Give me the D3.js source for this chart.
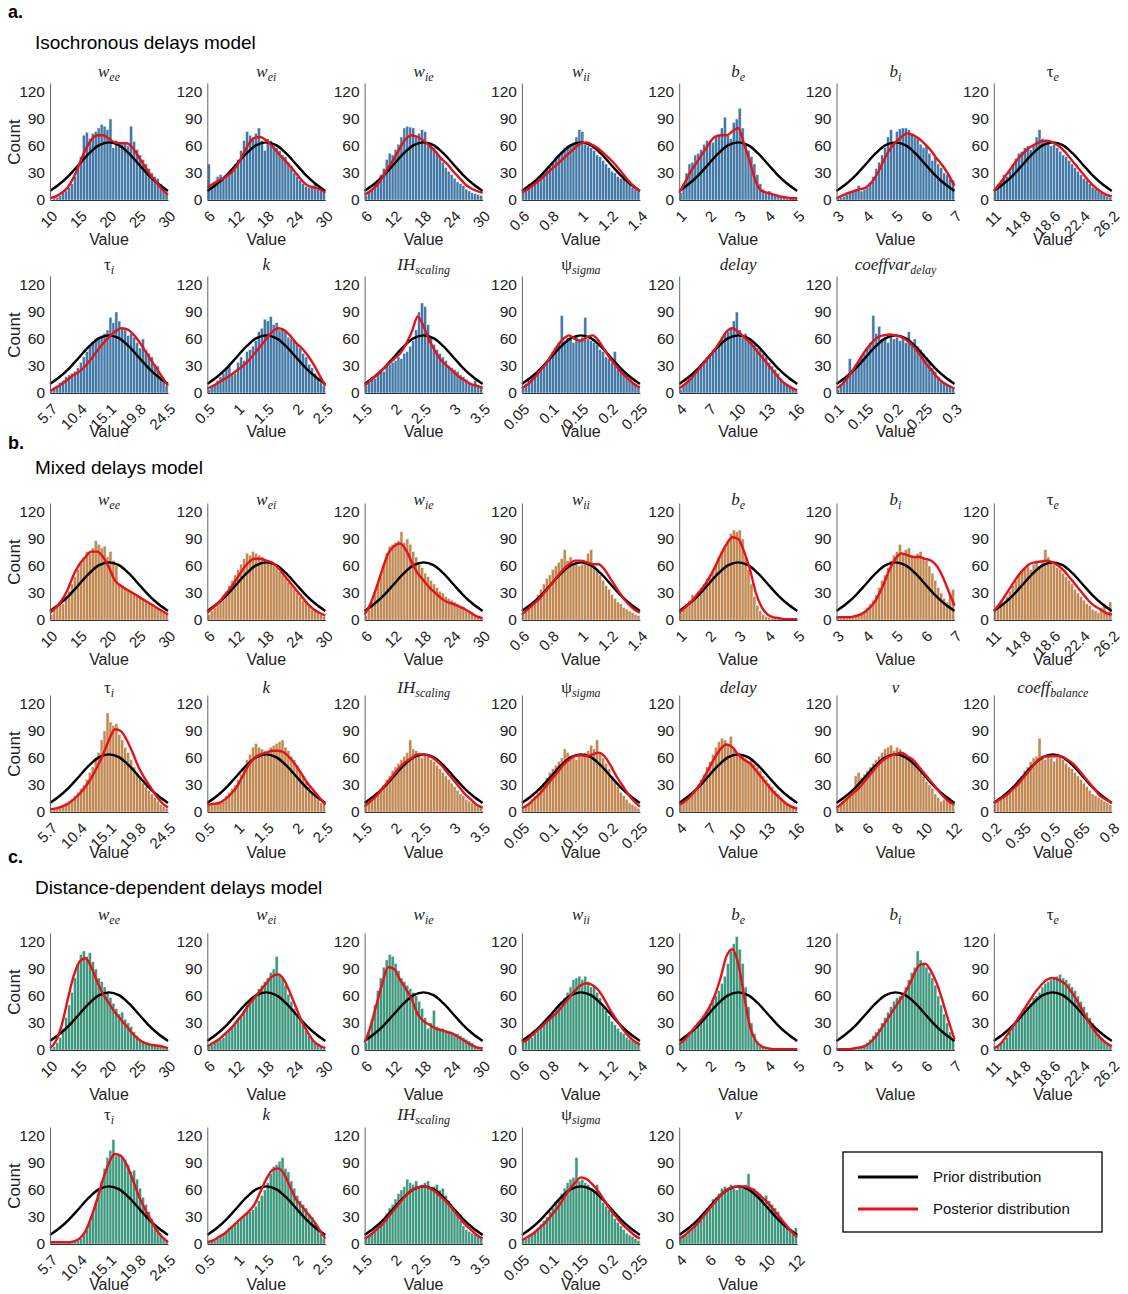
<!DOCTYPE html>
<html>
<head>
<meta charset="utf-8">
<script src="https://cdn.jsdelivr.net/npm/d3@7"></script>
<style>
  body { margin: 0; background: #fff; }
  text { font-family: "Liberation Sans", Arial, sans-serif; }
</style>
</head>
<body>
<div id="chart"></div>
<script>
// tick labels per parameter (first / last = axis range)
const tickLabels = {
  wee: ["10", "15", "20", "25", "30"],
  wei: ["6", "12", "18", "24", "30"],
  wie: ["6", "12", "18", "24", "30"],
  wii: ["0.6", "0.8", "1", "1.2", "1.4"],
  be: ["1", "2", "3", "4", "5"],
  bi: ["3", "4", "5", "6", "7"],
  taue: ["11", "14.8", "18.6", "22.4", "26.2"],
  taui: ["5.7", "10.4", "15.1", "19.8", "24.5"],
  k: ["0.5", "1", "1.5", "2", "2.5"],
  ih: ["1.5", "2", "2.5", "3", "3.5"],
  psi: ["0.05", "0.1", "0.15", "0.2", "0.25"],
  delay: ["4", "7", "10", "13", "16"],
  cvdelay: ["0.1", "0.15", "0.2", "0.25", "0.3"],
  v: ["4", "6", "8", "10", "12"],
  cbal: ["0.2", "0.35", "0.5", "0.65", "0.8"]
};

// [base, subscript, base italic]
const titles = {
  wee: ["w", "ee", true], wei: ["w", "ei", true], wie: ["w", "ie", true], wii: ["w", "ii", true],
  be: ["b", "e", true], bi: ["b", "i", true], taue: ["τ", "e", false], taui: ["τ", "i", false],
  k: ["k", "", true], ih: ["IH", "scaling", true], psi: ["ψ", "sigma", false],
  delay: ["delay", "", true], cvdelay: ["coeffvar", "delay", true], v: ["v", "", true],
  cbal: ["coeff", "balance", true]
};

const row1Params = ["wee", "wei", "wie", "wii", "be", "bi", "taue"];
const isoRow2 = ["taui", "k", "ih", "psi", "delay", "cvdelay"];
const mixedRow2 = ["taui", "k", "ih", "psi", "delay", "v", "cbal"];
const distRow2 = ["taui", "k", "ih", "psi", "v"];

const yTicks = [0, 30, 60, 90, 120];

// prior curve, counts at 13 evenly spaced points across the axis range
const priorShape = [10, 18, 28, 40, 52, 61, 64, 61, 52, 40, 28, 18, 10];

// histogram counts (40 bins across the axis range)
const isoBars = {
  wee: [0,2,3,5,8,10,14,18,26,36, 48,72,75,68,74,76,80,84,82,78, 90,58,66,64,62,63,60,82,65,56, 50,45,40,35,30,26,24,18,12,8],
  wei: [40,14,20,26,28,24,27,30,34,40, 45,55,66,76,72,70,74,80,66,55, 68,66,60,58,55,50,48,42,38,30, 26,22,18,15,14,16,18,12,10,8],
  wie: [5,8,12,18,22,28,35,45,52,50, 56,62,70,80,82,81,80,70,74,78, 76,60,64,58,52,48,42,36,32,28, 24,20,18,16,12,10,8,7,6,5],
  wii: [8,15,18,16,22,25,28,30,34,38, 42,46,50,54,58,60,62,64,70,78, 76,62,60,58,55,50,48,44,40,36, 32,30,26,24,28,20,18,14,12,10],
  be: [8,18,30,40,42,50,52,56,62,66, 66,64,70,72,80,92,72,68,86,90, 102,80,62,55,48,40,28,18,12,8, 10,6,5,6,4,3,2,3,2,2],
  bi: [2,3,4,6,8,10,12,16,10,12, 14,20,26,35,42,50,58,70,78,64, 76,79,80,80,78,74,70,68,62,58, 60,52,44,48,40,36,30,28,24,22],
  taue: [10,18,22,28,26,32,40,46,52,54, 58,60,56,62,70,78,68,66,64,60, 62,58,54,50,48,44,40,36,32,28, 24,22,18,14,12,10,8,6,4,3],
  taui: [2,4,8,12,14,18,20,22,24,28, 34,40,46,52,56,60,62,64,66,70, 84,78,90,80,72,70,64,66,62,56, 50,60,48,44,40,32,30,20,14,8],
  k: [4,8,10,14,18,22,28,30,20,22, 34,40,36,46,48,52,58,68,72,82, 80,85,76,78,70,72,68,62,60,58, 54,50,44,40,32,28,22,16,12,8],
  ih: [8,12,18,16,22,26,24,30,32,34, 36,40,38,44,46,52,58,70,90,100, 96,76,62,54,48,44,40,36,30,28, 26,24,20,18,15,12,10,14,8,6],
  psi: [5,10,14,18,20,24,26,30,34,40, 46,50,56,86,58,62,60,56,64,58, 62,84,60,58,56,54,48,46,40,38, 34,46,30,26,22,20,16,12,10,6],
  delay: [4,8,12,16,20,24,28,32,36,40, 44,48,50,56,60,66,68,72,80,90, 70,62,66,60,58,54,50,48,44,40, 34,30,26,22,16,12,10,8,5,3],
  cvdelay: [4,10,14,18,38,24,28,34,40,44, 50,56,86,66,74,60,62,56,64,60, 62,58,60,56,68,54,60,52,48,44, 40,34,28,24,18,14,12,10,8,5]
};
const mixedBars = {
  wee: [6,12,16,20,18,26,32,40,48,56, 64,70,76,74,80,88,84,80,82,70, 76,66,60,40,38,36,34,32,30,28, 26,24,20,18,16,14,12,10,8,6],
  wei: [6,10,14,18,22,28,32,38,44,50, 56,62,68,74,72,76,74,72,70,68, 66,64,60,58,54,50,46,42,38,34, 30,26,22,20,16,12,10,8,6,4],
  wie: [5,12,20,30,40,50,62,74,82,84, 86,88,98,86,90,84,76,70,64,58, 52,48,44,40,36,32,30,26,24,22, 20,18,16,15,12,10,8,5,3,2],
  wii: [6,10,14,18,22,28,34,40,46,50, 56,60,64,68,78,66,70,62,64,60, 62,64,74,78,60,56,50,44,38,34, 28,24,20,18,14,12,10,8,6,5],
  be: [8,12,18,22,28,26,32,36,40,46, 50,56,62,70,76,80,88,96,100,98, 100,90,70,56,40,26,16,10,6,4, 3,2,2,1,1,1,1,1,1,1],
  bi: [3,2,3,2,4,3,5,6,8,10, 14,18,22,28,36,44,50,58,66,72, 76,84,74,78,80,72,70,74,76,70, 66,60,52,44,36,30,24,20,28,34],
  taue: [10,16,22,18,26,32,38,44,50,54, 58,60,56,62,64,60,66,78,70,64, 62,58,56,52,48,44,40,34,30,26, 22,18,16,12,10,8,14,18,8,20],
  taui: [2,3,4,6,8,10,12,14,18,22, 26,30,36,44,50,60,66,80,90,110, 100,96,98,86,80,72,66,58,50,44, 38,32,28,24,20,16,12,8,6,4],
  k: [8,9,10,10,12,14,18,22,26,30, 36,42,50,58,64,72,76,72,70,68, 66,72,74,76,78,80,72,68,62,58, 52,46,40,34,28,22,18,14,10,8],
  ih: [6,10,14,18,22,26,30,36,40,46, 50,54,58,62,66,80,70,68,66,60, 64,62,58,56,52,48,44,40,36,32, 28,24,20,18,14,12,10,8,6,5],
  psi: [4,6,10,14,18,22,28,32,38,44, 48,52,56,60,70,66,62,60,58,64, 62,66,68,74,70,80,66,60,54,48, 40,34,28,22,18,14,10,8,6,4],
  delay: [8,10,14,16,20,24,30,36,42,50, 56,64,72,78,82,80,76,84,70,66, 62,64,60,56,58,54,50,46,40,36, 32,28,24,20,16,12,10,8,6,4],
  v: [4,8,12,14,18,20,40,44,38,42, 46,50,54,58,62,66,70,72,74,68, 72,70,66,62,60,58,56,50,44,40, 34,30,26,20,16,12,14,18,12,8],
  cbal: [10,12,14,16,20,22,26,30,34,40, 46,50,56,60,62,82,60,58,62,60, 56,60,62,58,54,50,48,44,40,36, 32,28,24,20,18,16,14,12,10,8]
};
const distBars = {
  wee: [2,4,8,14,24,36,50,64,80,96, 106,110,104,108,98,90,80,76,70,64, 58,52,46,40,42,34,30,26,20,16, 12,10,8,6,6,5,5,4,3,2],
  wei: [4,6,8,10,12,14,18,22,26,30, 34,38,44,50,54,58,62,68,72,76, 80,86,90,104,84,80,72,62,54,46, 40,34,28,22,16,12,8,6,4,2],
  wie: [8,20,34,50,66,80,92,100,106,104, 96,88,80,76,72,68,64,60,54,46, 36,24,30,44,26,24,24,22,20,20, 18,18,16,14,12,10,8,5,3,2],
  wii: [8,12,16,14,18,22,26,30,34,38, 42,46,50,54,58,64,70,78,80,82, 78,82,76,70,72,64,58,50,44,38, 32,28,24,20,18,14,12,10,8,6],
  be: [6,10,16,20,22,26,30,34,38,44, 48,54,60,66,74,82,96,110,118,126, 112,96,70,48,30,18,10,6,4,2, 2,1,1,1,1,1,1,1,1,1],
  bi: [1,1,1,1,2,2,2,3,4,6, 8,12,16,20,24,30,36,42,48,54, 58,60,64,70,78,86,92,110,100,96, 92,86,80,72,60,50,40,30,20,12],
  taue: [2,4,8,10,14,20,26,30,36,40, 44,48,52,58,60,64,70,74,76,78, 80,82,84,80,78,74,70,66,60,54, 48,42,36,30,24,18,14,10,6,4],
  taui: [1,1,1,1,1,1,2,2,3,4, 6,10,16,24,34,46,58,70,84,96, 104,116,98,100,96,94,88,80,82,72, 62,52,44,36,28,22,16,10,6,3],
  k: [2,3,4,6,8,10,14,18,20,22, 24,28,30,34,36,38,42,48,54,60, 68,78,86,88,92,96,84,80,70,62, 54,48,44,40,34,30,24,18,12,6],
  ih: [6,8,12,16,20,24,28,34,40,44, 50,56,60,64,72,68,66,70,64,66, 68,70,62,64,66,60,62,54,48,42, 38,32,26,20,16,14,12,10,8,6],
  psi: [4,6,8,10,14,18,22,26,30,36, 40,46,50,56,62,68,72,74,96,70, 72,68,66,62,58,66,52,46,42,38, 34,28,24,20,16,12,10,8,6,4],
  v: [6,8,10,14,18,22,26,30,36,40, 44,50,52,56,62,64,60,66,62,60, 64,62,66,78,60,62,58,56,52,54, 48,44,40,36,30,24,20,16,14,18]
};

// posterior curve, counts at 21 evenly spaced points across the axis range
const isoPost = {
  wee: [2,4,8,14,25,40,56,67,72,72,68,64,63,63,58,48,38,28,20,12,6],
  wei: [14,18,22,25,30,38,50,62,69,70,66,60,52,45,38,30,22,16,14,12,8],
  wie: [6,10,16,25,36,46,58,68,72,70,66,60,54,46,40,32,25,18,13,10,8],
  wii: [8,12,17,22,28,34,40,46,52,58,63,64,61,57,51,45,38,30,22,15,10],
  be: [8,20,32,42,52,62,70,72,72,76,80,62,42,20,10,8,6,4,3,2,2],
  bi: [2,5,8,10,12,14,20,30,44,56,64,70,74,72,68,62,55,46,38,28,16],
  taue: [10,18,27,36,45,52,58,62,65,66,64,60,54,46,38,30,22,15,10,6,4],
  taui: [2,6,10,15,20,24,30,38,47,55,62,68,72,71,66,58,48,38,28,18,8],
  k: [5,8,12,16,20,25,30,36,44,52,60,68,72,70,64,56,50,42,32,20,8],
  ih: [8,14,20,26,32,38,44,54,68,85,74,58,46,36,30,24,18,14,10,8,6],
  psi: [5,10,16,24,32,42,52,60,64,60,58,62,64,58,48,38,30,22,16,10,6],
  delay: [5,10,16,24,32,40,48,58,68,72,68,62,56,48,40,32,24,16,10,6,3],
  cvdelay: [5,10,18,28,38,48,56,62,64,65,64,62,58,52,44,34,26,18,12,8,5]
};
const mixedPost = {
  wee: [8,14,22,34,50,62,70,76,76,70,58,44,38,34,30,26,22,18,14,10,6],
  wei: [8,14,20,28,36,46,56,64,68,68,66,64,58,50,42,34,26,18,12,8,5],
  wie: [6,18,36,56,74,82,85,78,64,52,44,36,30,24,20,18,15,12,8,4,2],
  wii: [6,12,18,24,32,40,48,56,62,66,66,64,62,62,56,46,36,26,18,12,8],
  be: [8,14,20,28,36,46,58,72,84,92,90,76,56,30,14,6,3,2,1,1,1],
  bi: [3,3,3,4,6,10,16,26,40,56,68,74,72,70,70,68,66,60,48,32,16],
  taue: [10,18,28,38,48,56,62,64,65,66,64,60,54,46,38,30,22,16,12,8,6],
  taui: [3,4,6,9,14,20,28,38,50,64,80,92,90,80,66,50,38,28,18,10,5],
  k: [8,9,10,14,20,28,40,52,60,64,66,68,68,66,60,52,42,32,24,16,8],
  ih: [6,12,18,26,34,42,50,56,60,64,64,62,58,52,44,36,28,20,14,8,5],
  psi: [4,8,14,20,28,36,44,52,58,62,63,62,64,66,62,52,40,30,20,12,6],
  delay: [8,12,18,26,36,48,60,70,75,72,64,58,54,46,38,30,22,16,10,6,4],
  v: [4,10,16,22,28,36,44,52,58,62,64,66,62,58,50,42,34,26,18,12,8],
  cbal: [10,14,18,24,30,38,46,54,60,62,62,62,60,56,50,42,34,26,18,14,10]
};
const distPost = {
  wee: [2,10,28,56,82,98,102,92,76,62,52,42,34,26,18,12,8,6,5,4,2],
  wei: [4,8,12,18,24,32,40,50,58,66,74,82,84,78,64,48,32,20,10,5,2],
  wie: [8,26,50,74,92,90,78,68,56,40,32,28,24,22,20,18,14,10,6,3,2],
  wii: [8,12,18,24,30,36,42,50,58,66,72,74,72,66,56,44,34,24,16,10,6],
  be: [6,12,20,28,36,46,60,80,104,112,96,60,26,10,4,2,1,1,1,1,1],
  bi: [1,1,1,2,3,5,10,18,28,38,48,58,68,82,94,96,88,74,54,32,12],
  taue: [2,6,14,24,34,44,54,64,72,78,80,78,74,66,56,44,32,22,14,8,4],
  taui: [2,2,2,2,3,6,14,30,50,72,90,100,98,88,72,54,40,28,16,8,2],
  k: [2,4,8,12,18,24,30,36,44,58,72,82,84,78,64,50,42,34,26,16,6],
  ih: [6,10,16,22,30,38,46,54,60,63,64,62,58,52,46,38,30,22,16,10,6],
  psi: [4,8,12,18,24,32,40,50,60,68,74,72,66,58,48,38,30,22,16,10,6],
  v: [6,10,16,22,30,38,46,54,60,63,64,64,62,58,52,46,38,30,22,14,8]
};

const sections = [
  { label: "a.", title: "Isochronous delays model", labelY: 18, titleY: 49, color: "#4279a6", bars: isoBars, post: isoPost },
  { label: "b.", title: "Mixed delays model", labelY: 449, titleY: 474, color: "#c4884e", bars: mixedBars, post: mixedPost },
  { label: "c.", title: "Distance-dependent delays model", labelY: 863, titleY: 894, color: "#3d997e", bars: distBars, post: distPost }
];

const rows = [
  { sec: 0, params: row1Params, zero: 200, titleY: 77, valueY: 245 },
  { sec: 0, params: isoRow2, zero: 393, titleY: 270, valueY: 437 },
  { sec: 1, params: row1Params, zero: 620, titleY: 505, valueY: 665 },
  { sec: 1, params: mixedRow2, zero: 812, titleY: 693, valueY: 858 },
  { sec: 2, params: row1Params, zero: 1050, titleY: 920, valueY: 1100 },
  { sec: 2, params: distRow2, zero: 1244, titleY: 1120, valueY: 1290 }
];

const W = 1128, H = 1294;
const colLeft = 50, colStep = 157.3, plotW = 118, plotH = 117;

const svg = d3.select("#chart").append("svg")
  .attr("width", W).attr("height", H)
  .style("background", "#fff");

// section headers
sections.forEach(s => {
  svg.append("text").attr("x", 8).attr("y", s.labelY)
    .style("font-size", "18px").style("font-weight", "bold").text(s.label);
  svg.append("text").attr("x", 35).attr("y", s.titleY)
    .style("font-size", "19px").text(s.title);
});

rows.forEach(row => {
  const sec = sections[row.sec];
  const ys = d3.scaleLinear().domain([0, 130]).range([row.zero, row.zero - plotH]);

  row.params.forEach((p, c) => {
    const labels = tickLabels[p];
    const nums = labels.map(Number);
    const lo = nums[0], hi = nums[nums.length - 1];
    const x0 = colLeft + c * colStep;
    const xs = d3.scaleLinear().domain([lo, hi]).range([x0, x0 + plotW]);
    const g = svg.append("g");

    // bars
    const bars = sec.bars[p];
    const bw = (hi - lo) / bars.length;
    g.selectAll("rect").data(bars).join("rect")
      .attr("x", (d, i) => xs(lo + i * bw))
      .attr("width", (d, i) => xs(lo + (i + 1) * bw) - xs(lo + i * bw))
      .attr("y", d => ys(d))
      .attr("height", d => ys(0) - ys(d))
      .attr("fill", sec.color)
      .attr("stroke", "#e8eef2")
      .attr("stroke-width", 0.45);

    // prior + posterior curves
    const prior = priorShape.map((v, i) => [lo + i * (hi - lo) / (priorShape.length - 1), v]);
    const post = sec.post[p].map((v, i, a) => [lo + i * (hi - lo) / (a.length - 1), v]);
    const line = d3.line().x(d => xs(d[0])).y(d => ys(d[1]));

    g.append("path").datum(prior)
      .attr("d", line.curve(d3.curveCatmullRom.alpha(0.5)))
      .attr("fill", "none").attr("stroke", "#000").attr("stroke-width", 2.4);
    g.append("path").datum(post)
      .attr("d", line.curve(d3.curveMonotoneX))
      .attr("fill", "none").attr("stroke", "#e8101a").attr("stroke-width", 2.4);

    // axes
    const ya = g.append("g").attr("transform", `translate(${x0},0)`)
      .call(d3.axisLeft(ys).tickValues(yTicks).tickSize(0).tickPadding(5));
    ya.select(".domain").attr("stroke", "#666");
    ya.selectAll("text").style("font-size", "15.5px").attr("fill", "#222");

    const xa = g.append("g").attr("transform", `translate(0,${row.zero})`)
      .call(d3.axisBottom(xs).tickValues(nums).tickFormat((d, i) => labels[i]).tickSize(0));
    xa.select(".domain").attr("stroke", "#333");
    xa.selectAll("text")
      .style("font-size", "15px").attr("fill", "#222")
      .attr("y", 0).attr("dy", 0)
      .attr("text-anchor", "end")
      .attr("transform", "translate(8,17) rotate(-45)");

    g.append("text")
      .attr("x", x0 + plotW / 2).attr("y", row.valueY)
      .attr("text-anchor", "middle")
      .style("font-size", "16px").attr("fill", "#222")
      .text("Value");

    // panel title
    const t = titles[p];
    const tt = g.append("text")
      .attr("x", x0 + plotW / 2).attr("y", row.titleY)
      .attr("text-anchor", "middle")
      .style("font-family", "'Liberation Serif', 'DejaVu Serif', serif")
      .style("font-size", "17px").attr("fill", "#222");
    tt.append("tspan").style("font-style", t[2] ? "italic" : "normal").text(t[0]);
    if (t[1]) {
      tt.append("tspan").style("font-style", "italic").style("font-size", "12px")
        .attr("dy", 4).text(t[1]);
    }

    if (c === 0) {
      g.append("text")
        .attr("transform", `translate(20,${row.zero - 58}) rotate(-90)`)
        .attr("text-anchor", "middle")
        .style("font-size", "17px").attr("fill", "#222")
        .text("Count");
    }
  });
});

// legend
const lg = svg.append("g");
lg.append("rect").attr("x", 843).attr("y", 1152).attr("width", 259).attr("height", 80)
  .attr("fill", "#fff").attr("stroke", "#000").attr("stroke-width", 1.3);
[["Prior distribution", "#000", 1177], ["Posterior distribution", "#e8101a", 1209]].forEach(([name, col, ly]) => {
  lg.append("line").attr("x1", 858).attr("x2", 918).attr("y1", ly).attr("y2", ly)
    .attr("stroke", col).attr("stroke-width", 3);
  lg.append("text").attr("x", 933).attr("y", ly + 5)
    .style("font-size", "15px").attr("fill", "#111").text(name);
});
</script>
</body>
</html>
